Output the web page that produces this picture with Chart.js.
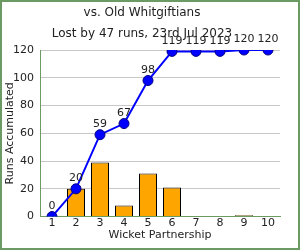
<!DOCTYPE html>
<html>
<head>
<meta charset="utf-8">
<script src="https://cdn.jsdelivr.net/npm/chart.js@4"></script>
<style>
    body { margin: 0; background: #fff; }
    #wrap { width: 300px; height: 250px; box-sizing: border-box; border: 2px solid #6b9a63; }
    canvas { display: block; }
</style>
</head>
<body>
<div id="wrap"><canvas id="chart" width="296" height="246"></canvas></div>
<script>
const partnerships = ['1', '2', '3', '4', '5', '6', '7', '8', '9', '10'];
const partnershipRuns = [0, 20, 39, 8, 31, 21, 0, 0, 1, 0];
const runsAccumulated = [0, 20, 59, 67, 98, 119, 119, 119, 120, 120];

const FONT = 'DejaVu Sans';

// draws the accumulated value above each point
const pointLabels = {
    id: 'pointLabels',
    afterDatasetsDraw(chart) {
        const ctx = chart.ctx;
        const meta = chart.getDatasetMeta(1);
        ctx.save();
        ctx.font = '11px "' + FONT + '"';
        ctx.fillStyle = '#222';
        ctx.textAlign = 'center';
        ctx.textBaseline = 'bottom';
        meta.data.forEach((pt, i) => {
            ctx.fillText(String(runsAccumulated[i]), pt.x, pt.y - 5);
        });
        ctx.restore();
    }
};

new Chart(document.getElementById('chart').getContext('2d'), {
    data: {
        labels: partnerships,
        datasets: [{
            type: 'bar',
            data: partnershipRuns,
            backgroundColor: '#ffa500',
            borderColor: '#000',
            borderWidth: 1,
            barPercentage: 0.75,
            categoryPercentage: 1,
            order: 2,
        }, {
            type: 'line',
            data: runsAccumulated,
            borderColor: '#0000ff',
            borderWidth: 2,
            pointRadius: 5,
            pointBackgroundColor: '#0000ff',
            pointBorderColor: '#000080',
            pointBorderWidth: 1,
            tension: 0,
            order: 1,
        }],
    },
    options: {
        responsive: false,
        animation: false,
        layout: { padding: { left: 2, right: 18, top: 0, bottom: 6 } },
        plugins: {
            legend: { display: false },
            tooltip: { enabled: false },
            title: {
                display: true,
                text: ['vs. Old Whitgiftians', 'Lost by 47 runs, 23rd Jul 2023'],
                color: '#222',
                font: { family: FONT, size: 12, weight: 'normal', lineHeight: 1.75 },
                padding: { top: 0, bottom: 6 },
            },
        },
        scales: {
            x: {
                offset: true,
                grid: { display: false, drawTicks: false },
                border: { color: '#6b9a63' },
                ticks: { color: '#222', font: { family: FONT, size: 11 }, padding: 0, maxRotation: 0 },
                title: {
                    display: true,
                    text: 'Wicket Partnership',
                    color: '#222',
                    font: { family: FONT, size: 11 },
                    padding: { top: -1, bottom: 0 },
                },
            },
            y: {
                min: 0,
                max: 120,
                afterFit(scale) { scale.width = 36; },
                ticks: { stepSize: 20, color: '#222', font: { family: FONT, size: 11 }, padding: 6 },
                grid: { color: '#c8c8c8', drawTicks: false },
                border: { color: '#6b9a63' },
                title: {
                    display: true,
                    text: 'Runs Accumulated',
                    color: '#222',
                    font: { family: FONT, size: 11 },
                    padding: 0,
                },
            },
        },
    },
    plugins: [pointLabels],
});
</script>
</body>
</html>
